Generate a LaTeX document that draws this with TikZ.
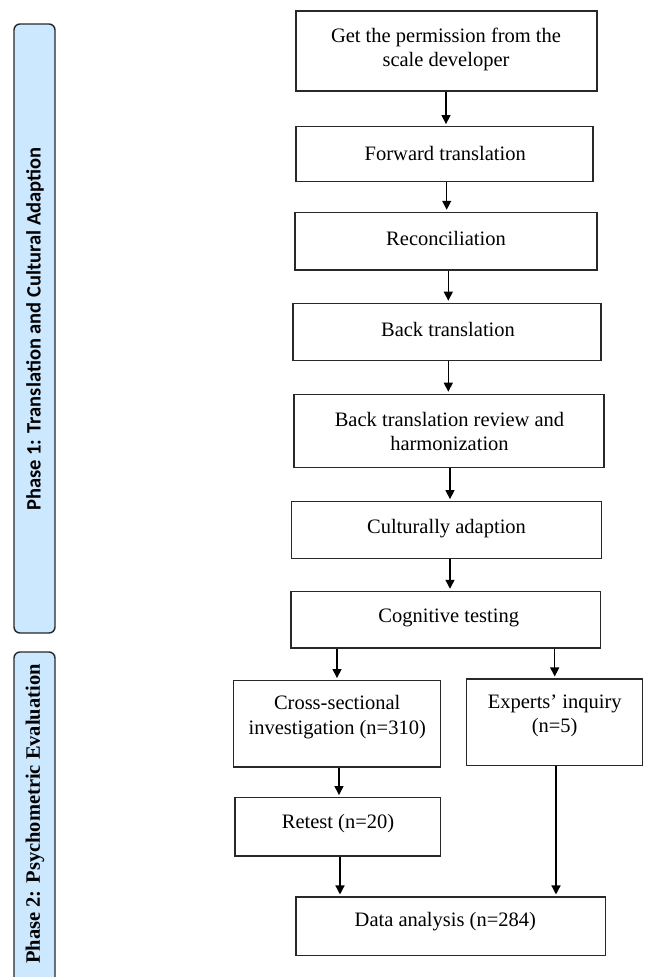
\documentclass[tikz,border=0pt]{standalone}
\usepackage{fontspec}
\setmainfont{Liberation Serif}
\newfontfamily\calibri{Carlito}
\usetikzlibrary{arrows.meta,calc}
\definecolor{phasefill}{RGB}{204,232,255}
\definecolor{edge}{RGB}{40,40,40}
\tikzset{
  stepbox/.style={draw=edge, line width=1.2pt, fill=white, rectangle, inner sep=0pt},
  lbl/.style={align=center, inner sep=0pt, font=\fontsize{20.5}{24.4}\selectfont},
  arr/.style={-{Triangle[length=9pt,width=9pt]}, line width=1.4pt, black, shorten >=2pt},
  phasebox/.style={draw=edge, line width=1.4pt, fill=phasefill, rounded corners=6pt},
  phasetxt/.style={rotate=90, inner sep=0pt, font=\bfseries\fontsize{20.5}{24}\selectfont}
}
\begin{document}
\begin{tikzpicture}[x=1pt,y=-1pt]
\useasboundingbox (0,0) rectangle (645,977);
\begin{scope}
\clip (0,0) rectangle (645,977);
% phase panels
\draw[phasebox] (14,24) rectangle (55,633);
\node[phasetxt] (p1) at (35,329) {\calibri Phase 1: Translation and Cultural Adaption};
\draw[phasebox] (14,652) rectangle (55,1010);
\node[phasetxt] (p2) at (35,814) {Phase 2: Psychometric Evaluation};
\end{scope}
% boxes
\node[stepbox, minimum width=301pt, minimum height=80pt] (b1) at (446.5,51) {};
\node[stepbox, minimum width=297pt, minimum height=55pt] (b2) at (444.5,154.2) {};
\node[stepbox, minimum width=302pt, minimum height=57.7pt] (b3) at (446,241.2) {};
\node[stepbox, minimum width=308pt, minimum height=57pt] (b4) at (447,331.8) {};
\node[stepbox, minimum width=310pt, minimum height=73.4pt] (b5) at (449,431) {};
\node[stepbox, minimum width=310pt, minimum height=57pt] (b6) at (446.7,530.2) {};
\node[stepbox, minimum width=309.7pt, minimum height=56.7pt] (b7) at (445.8,619.7) {};
\node[stepbox, minimum width=207.4pt, minimum height=86.3pt] (cross) at (337,723.8) {};
\node[stepbox, minimum width=176pt, minimum height=86.3pt] (expert) at (554.7,722.2) {};
\node[stepbox, minimum width=205.7pt, minimum height=58.3pt] (retest) at (337.8,826.8) {};
\node[stepbox, minimum width=309.7pt, minimum height=58.3pt] (data) at (450.8,926.2) {};
% labels
\node[lbl] (t1) at (446,49.5) {Get the permission from the\\scale developer};
\node[lbl] (t2) at (445.3,153.3) {Forward translation};
\node[lbl] (t3) at (446,238.3) {Reconciliation};
\node[lbl] (t4) at (448,329) {Back translation};
\node[lbl] (t5) at (449.5,431.3) {Back translation review and\\harmonization};
\node[lbl] (t6) at (446.5,528.3) {Culturally adaption};
\node[lbl] (t7) at (448.7,618.3) {Cognitive testing};
\node[lbl] (tc) at (337.2,717) {Cross-sectional\\investigation (n=310)};
\node[lbl] (te) at (554.7,715.8) {Experts’ inquiry\\(n=5)};
\node[lbl] (tr) at (338,823.3) {Retest (n=20)};
\node[lbl] (td) at (445.3,921.7) {Data analysis (n=284)};
% connectors
\draw[arr] (b1.south -| 446,0) -- (b2.north -| 446,0);
\draw[arr] (b2.south -| 446.7,0) -- (b3.north -| 446.7,0);
\draw[arr] (b3.south -| 448.3,0) -- (b4.north -| 448.3,0);
\draw[arr] (b4.south -| 448.3,0) -- (b5.north -| 448.3,0);
\draw[arr] (b5.south -| 450,0) -- (b6.north -| 450,0);
\draw[arr] (b6.south -| 450,0) -- (b7.north -| 450,0);
\draw[arr] (b7.south -| cross.north) -- (cross.north);
\draw[arr] (b7.south -| expert.north) -- (expert.north);
\draw[arr] (cross.south -| 339,0) -- (retest.north -| 339,0);
\draw[arr] (retest.south -| 340,0) -- (data.north -| 340,0);
\draw[arr] (expert.south -| 556,0) -- (data.north -| 556,0);
\end{tikzpicture}
\end{document}
